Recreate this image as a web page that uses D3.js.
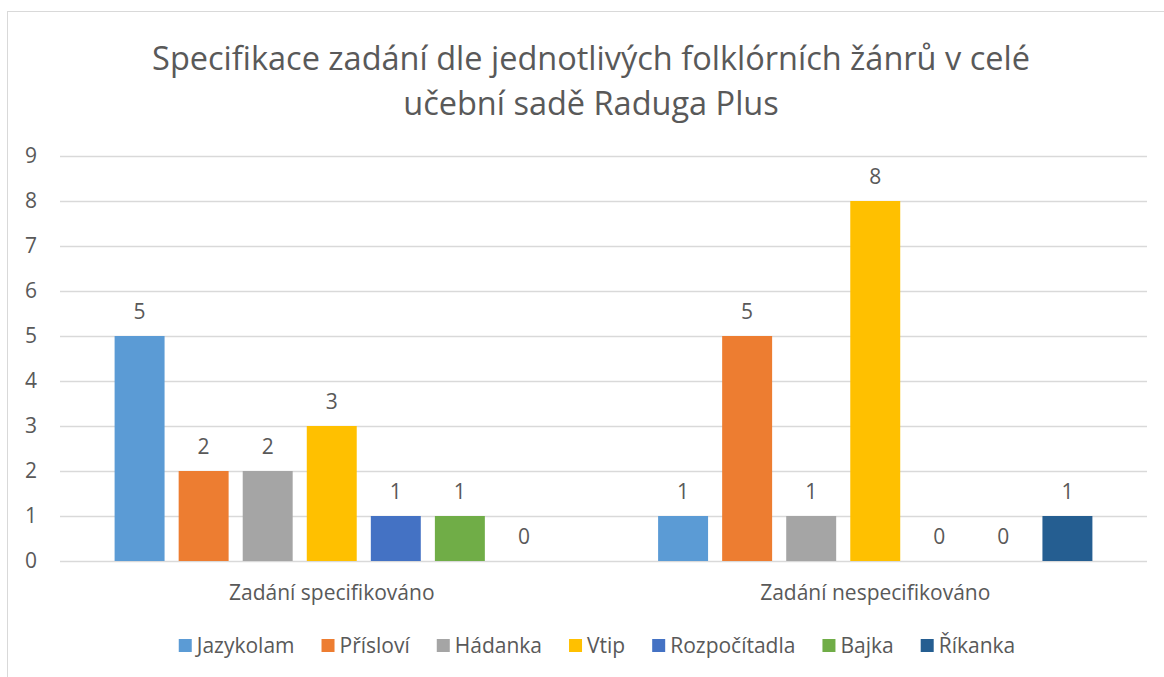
<!DOCTYPE html>
<html>
<head>
<meta charset="utf-8">
<script src="https://cdn.jsdelivr.net/npm/d3@7"></script>
<style>
  body { margin: 0; background: #fff; }
  text { font-family: "Open Sans", sans-serif; fill: #595959; }
</style>
</head>
<body>
<div id="chart"></div>
<script>
// Data
var groups = ["Zadání specifikováno", "Zadání nespecifikováno"];
var genres = ["Jazykolam", "Přísloví", "Hádanka", "Vtip", "Rozpočítadla", "Bajka", "Říkanka"];
var specified = [5, 2, 2, 3, 1, 1, 0];
var unspecified = [1, 5, 1, 8, 0, 0, 1];
var colors = ["#5b9bd5", "#ed7d31", "#a5a5a5", "#ffc000", "#4472c4", "#70ad47", "#255e91"];
var yTicks = [0, 1, 2, 3, 4, 5, 6, 7, 8, 9];
var titleLines = ["Specifikace zadání dle jednotlivých folklórních žánrů v celé", "učební sadě Raduga Plus"];

var svgWidth = 1164;
var svgHeight = 677;

var margin = { top: 156, right: 17, bottom: 116, left: 60 };
var width = svgWidth - margin.left - margin.right;
var height = svgHeight - margin.top - margin.bottom;

var svg = d3.select("#chart")
  .append("svg")
  .attr("width", svgWidth)
  .attr("height", svgHeight);

// chart frame (runs off the right and bottom edge)
svg.append("rect")
  .attr("x", 7.5)
  .attr("y", 11.5)
  .attr("width", 1300)
  .attr("height", 800)
  .attr("fill", "none")
  .attr("stroke", "#d9d9d9");

// Title
svg.selectAll(".title")
  .data(titleLines)
  .enter()
  .append("text")
  .attr("class", "title")
  .attr("x", 591)
  .attr("y", function(d, i) { return 70 + i * 45; })
  .attr("text-anchor", "middle")
  .attr("font-size", 32.5)
  .text(function(d) { return d; });

var chartGroup = svg.append("g")
  .attr("transform", `translate(${margin.left}, ${margin.top})`);

var rows = groups.map(function(g, gi) {
  var vals = gi === 0 ? specified : unspecified;
  return { group: g, values: genres.map(function(name, i) { return { name: name, value: vals[i], color: colors[i] }; }) };
});

// Scales
var x0 = d3.scaleBand()
  .domain(groups)
  .range([0, width])
  .paddingInner(0.175)
  .paddingOuter(0.0875);

var x1 = d3.scaleBand()
  .domain(genres)
  .range([0, x0.bandwidth()])
  .paddingInner(0.22)
  .paddingOuter(0.11);

var yLinearScale = d3.scaleLinear()
  .domain([0, 9])
  .range([height, 0]);

// Gridlines
chartGroup.append("g")
  .selectAll("line")
  .data(yTicks)
  .enter()
  .append("line")
  .attr("x1", 0)
  .attr("x2", width)
  .attr("y1", function(d) { return Math.round(yLinearScale(d)) + 0.5; })
  .attr("y2", function(d) { return Math.round(yLinearScale(d)) + 0.5; })
  .attr("stroke", "#d9d9d9")
  .attr("stroke-width", 1.5);

// Y axis labels
var leftAxis = d3.axisLeft(yLinearScale).tickValues(yTicks).tickSize(0).tickPadding(23);
var yAxis = chartGroup.append("g")
  .attr("class", "y axis")
  .call(leftAxis);
yAxis.select(".domain").remove();
yAxis.selectAll("text")
  .attr("font-size", 21)
  .attr("font-family", "Open Sans, sans-serif")
  .attr("fill", "#595959");

// Bars
var groupSel = chartGroup.selectAll(".grp")
  .data(rows)
  .enter()
  .append("g")
  .attr("class", "grp")
  .attr("transform", function(d) { return "translate(" + x0(d.group) + ",0)"; });

groupSel.selectAll("rect")
  .data(function(d) { return d.values; })
  .enter()
  .append("rect")
  .attr("x", function(d) { return x1(d.name); })
  .attr("y", function(d) { return yLinearScale(d.value); })
  .attr("width", x1.bandwidth())
  .attr("height", function(d) { return height - yLinearScale(d.value); })
  .attr("fill", function(d) { return d.color; });

// Data labels
groupSel.selectAll(".lbl")
  .data(function(d) { return d.values; })
  .enter()
  .append("text")
  .attr("class", "lbl")
  .attr("x", function(d) { return x1(d.name) + x1.bandwidth() / 2; })
  .attr("y", function(d) { return yLinearScale(d.value) - 17; })
  .attr("text-anchor", "middle")
  .attr("font-size", 21)
  .text(function(d) { return d.value; });

// Category labels
var bottomAxis = d3.axisBottom(x0).tickSize(0).tickPadding(24);
var xAxis = chartGroup.append("g")
  .attr("class", "x axis")
  .attr("transform", "translate(0," + height + ")")
  .call(bottomAxis);
xAxis.select(".domain").remove();
xAxis.selectAll("text")
  .attr("font-size", 21)
  .attr("font-family", "Open Sans, sans-serif")
  .attr("fill", "#595959");

// Legend
var legend = svg.append("g").attr("class", "legend");
var items = legend.selectAll("g")
  .data(genres)
  .enter()
  .append("g");
items.append("rect")
  .attr("width", 13)
  .attr("height", 13)
  .attr("y", 639)
  .attr("fill", function(d, i) { return colors[i]; });
items.append("text")
  .attr("x", 18)
  .attr("y", 653)
  .attr("font-size", 21)
  .text(function(d) { return d; });

var offsets = [];
var pos = 0;
items.each(function() {
  offsets.push(pos);
  pos += 18 + this.querySelector("text").getComputedTextLength() + 27;
});
var total = pos - 27;
var startX = 597 - total / 2;
items.attr("transform", function(d, i) { return "translate(" + (startX + offsets[i]) + ",0)"; });
</script>
</body>
</html>
